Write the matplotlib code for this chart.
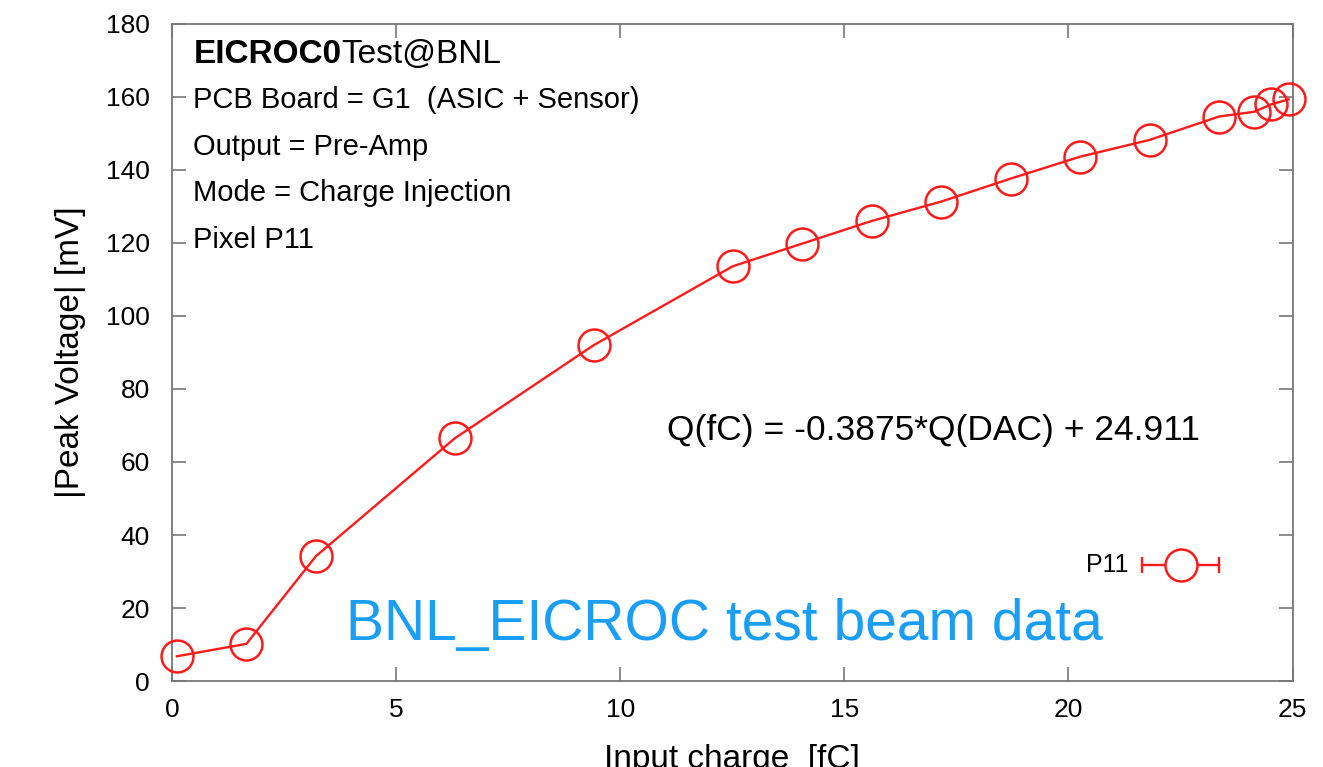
import matplotlib
matplotlib.use("Agg")
import matplotlib.pyplot as plt
from matplotlib.ticker import MultipleLocator

plt.rcParams['font.family'] = ['Liberation Sans', 'DejaVu Sans']

# P11 pre-amp peak voltage vs injected charge
charge_fC = [0.11, 1.66, 3.21, 6.31, 9.41, 12.51, 14.06, 15.61, 17.16,
             18.71, 20.26, 21.81, 23.36, 24.14, 24.52, 24.91]
peak_mV = [6.8, 10.2, 34.2, 66.5, 92.0, 113.6, 119.8, 126.0, 131.3,
           137.6, 143.6, 148.2, 154.6, 155.9, 157.9, 159.3]

red = '#ff1a1a'
frame = '#777777'

fig = plt.figure(figsize=(13.23, 7.67), dpi=100)
ax = fig.add_axes([0.130, 0.112, 0.847, 0.857])

ax.plot(charge_fC, peak_mV, color=red, lw=1.7, marker='o', ms=23,
        mfc='none', mec=red, mew=1.8, clip_on=False, zorder=3)

ax.set_xlim(0, 25)
ax.set_ylim(0, 180)
ax.xaxis.set_major_locator(MultipleLocator(5))
ax.yaxis.set_major_locator(MultipleLocator(20))
ax.tick_params(direction='in', length=10, width=1.2, color=frame,
               top=True, right=True, labelsize=19)
ax.tick_params(axis='y', pad=16)
ax.tick_params(axis='x', pad=12)
for s in ax.spines.values():
    s.set_color(frame)
    s.set_linewidth(1.3)

ax.set_xlabel('Input charge  [fC]', fontsize=24, labelpad=16)
ax.set_ylabel('|Peak Voltage| [mV]', fontsize=24, labelpad=14)

# info block
tx = 0.019
t = ax.text(tx, 0.953, 'EICROC0', transform=ax.transAxes, fontsize=24,
            va='center', ha='left', fontweight='bold')
fig.canvas.draw()
bb = t.get_window_extent().transformed(ax.transAxes.inverted())
ax.text(bb.x1, 0.953, 'Test@BNL', transform=ax.transAxes, fontsize=24,
        va='center', ha='left')
info = ['PCB Board = G1  (ASIC + Sensor)', 'Output = Pre-Amp',
        'Mode = Charge Injection', 'Pixel P11']
info_y = [0.884, 0.813, 0.743, 0.671]
for line, yy in zip(info, info_y):
    ax.text(tx, yy, line, transform=ax.transAxes, fontsize=21,
            va='center', ha='left')

ax.text(0.917, 0.382, 'Q(fC) = -0.3875*Q(DAC) + 24.911',
        transform=ax.transAxes, fontsize=25.5, ha='right', va='center')
ax.text(0.493, 0.085, 'BNL_EICROC test beam data', transform=ax.transAxes,
        fontsize=41, color='#1a9ef5', ha='center', va='center')

# legend entry
ax.text(0.854, 0.177, 'P11', transform=ax.transAxes, fontsize=18,
        ha='right', va='center')
ax.plot([0.866, 0.934], [0.177, 0.177], transform=ax.transAxes, color=red,
        lw=1.7, clip_on=False)
ax.plot([0.866, 0.934], [0.177, 0.177], transform=ax.transAxes, color=red,
        ls='none', marker='|', ms=12, mew=1.7, clip_on=False)
ax.plot([0.900], [0.177], transform=ax.transAxes, color=red, ls='none',
        marker='o', ms=23, mfc='white', mec=red, mew=1.8, clip_on=False)

fig.savefig('out.png', dpi=100)
